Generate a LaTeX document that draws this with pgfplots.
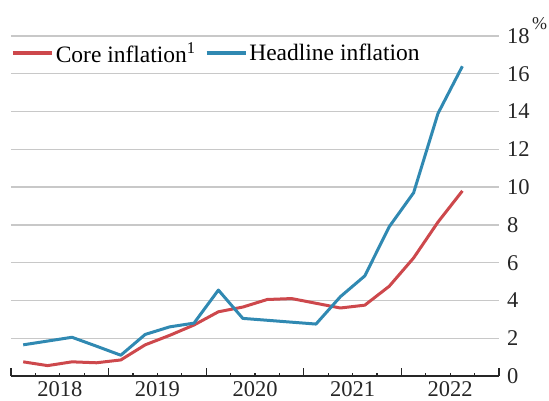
\documentclass[border=0pt]{standalone}
\usepackage{fontspec}
\setmainfont{Liberation Serif}
\usepackage{pgfplots}
\pgfplotsset{compat=1.18}
\definecolor{corered}{RGB}{205,72,76}
\definecolor{headblue}{RGB}{48,137,178}
\definecolor{gridgray}{RGB}{200,200,200}
\begin{document}
\begin{tikzpicture}
\begin{axis}[
  name=ax,
  scale only axis,
  width=488pt, height=340pt,
  xmin=2018, xmax=2023,
  ymin=0, ymax=18,
  axis x line*=bottom,
  axis y line*=right,
  y axis line style={draw=none},
  ytick={0,2,...,18},
  major y tick style={draw=none},
  ymajorgrids,
  grid style={gridgray, line width=1.3pt},
  xtick={2018,2019,2020,2021,2022,2023},
  xticklabels={2018,2019,2020,2021,2022},
  x tick label as interval,
  minor x tick num=3,
  tick align=inside,
  major tick length=8pt,
  minor tick length=3.5pt,
  x axis line style={black!85, line width=1.2pt},
  x tick style={black!85, line width=1.1pt},
  /pgf/number format/assume math mode=true,
  tick label style={font=\fontsize{22.5}{26}\selectfont, black!85},
  xticklabel style={yshift=-2pt},
  yticklabel style={anchor=west, inner xsep=0pt, xshift=8pt},
  clip=false,
  legend columns=2,
  legend style={at={(rel axis cs:0,0.95)}, anchor=west, draw=none, fill=none,
    font=\fontsize{23.5}{26}\selectfont, inner xsep=0pt, inner ysep=0pt,
    /tikz/every even column/.append style={column sep=7pt}},
  legend image code/.code={\draw[#1, line width=3.6pt] (0pt,0pt) -- (39pt,0pt);},
  every axis plot/.append style={line width=3pt, line join=round},
]
\addplot[corered, mark=none] coordinates {
(2018.125,0.75) (2018.375,0.55) (2018.625,0.75) (2018.875,0.70)
(2019.125,0.85) (2019.375,1.65) (2019.625,2.15) (2019.875,2.70)
(2020.125,3.40) (2020.375,3.65) (2020.625,4.05) (2020.875,4.10)
(2021.125,3.85) (2021.375,3.60) (2021.625,3.75) (2021.875,4.75)
(2022.125,6.25) (2022.375,8.15) (2022.625,9.80)
};
\addlegendentry{Core inflation\textsuperscript{1}}
\addplot[headblue, mark=none] coordinates {
(2018.125,1.65) (2018.375,1.85) (2018.625,2.05) (2018.875,1.58)
(2019.125,1.10) (2019.375,2.20) (2019.625,2.60) (2019.875,2.80)
(2020.125,4.55) (2020.375,3.05) (2020.625,2.95) (2020.875,2.85)
(2021.125,2.75) (2021.375,4.20) (2021.625,5.30) (2021.875,7.90)
(2022.125,9.70) (2022.375,13.90) (2022.625,16.40)
};
\addlegendentry{Headline inflation}
\node[anchor=south west, inner sep=0pt, font=\fontsize{18}{20}\selectfont, black!85]
  at (rel axis cs:1,1) [xshift=33pt, yshift=6pt] {\%};
\end{axis}
\pgfresetboundingbox
\path[use as bounding box] ([xshift=-11pt,yshift=-24pt]ax.south west) rectangle ([xshift=538pt,yshift=376pt]ax.south west);
\end{tikzpicture}
\end{document}
